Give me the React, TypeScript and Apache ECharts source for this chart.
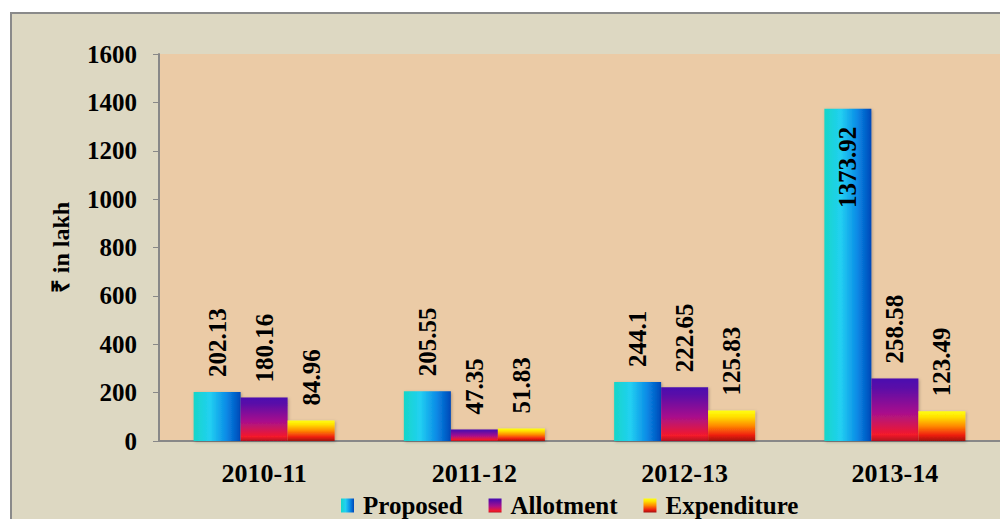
import React, { useEffect, useRef } from "react";
import * as echarts from "echarts";

const categories = ["2010-11", "2011-12", "2012-13", "2013-14"];
const proposed = [202.13, 205.55, 244.1, 1373.92];
const allotment = [180.16, 47.35, 222.65, 258.58];
const expenditure = [84.96, 51.83, 125.83, 123.49];
const seriesNames = ["Proposed", "Allotment", "Expenditure"];
const yTicks = { min: 0, max: 1600, interval: 200 };

const FONT = "'Liberation Serif', 'Times New Roman', serif";

const gradProposed = new echarts.graphic.LinearGradient(0, 0, 1, 0, [
  { offset: 0, color: "#16D6C8" },
  { offset: 0.35, color: "#22D0F2" },
  { offset: 0.7, color: "#0A8AE6" },
  { offset: 1, color: "#0048B8" },
]);
const gradAllot = new echarts.graphic.LinearGradient(0, 0, 0, 1, [
  { offset: 0, color: "#4A0CB0" },
  { offset: 0.15, color: "#5A0AA8" },
  { offset: 0.55, color: "#A8108C" },
  { offset: 0.9, color: "#F41A2A" },
  { offset: 1, color: "#B01020" },
]);
const gradExp = new echarts.graphic.LinearGradient(0, 0, 0, 1, [
  { offset: 0, color: "#FFFF10" },
  { offset: 0.2, color: "#FFE000" },
  { offset: 0.5, color: "#FF8A00" },
  { offset: 0.8, color: "#F02010" },
  { offset: 1, color: "#A01010" },
]);

export default function App() {
  const ref = useRef<HTMLDivElement>(null);
  useEffect(() => {
    document.body.style.margin = "0";
    const chart = echarts.init(ref.current!, undefined, { renderer: "svg" });
    const labelBase = {
      show: true,
      position: "top" as const,
      rotate: 90,
      align: "left",
      verticalAlign: "middle",
      distance: 15,
      fontFamily: FONT,
      fontWeight: "bold",
      fontSize: 25,
      color: "#000",
    };
    const mk = (name: string, vals: number[], color: any) => ({
      name,
      type: "bar",
      barWidth: 47,
      barGap: "0%",
      itemStyle: {
        color,
        shadowColor: "rgba(0,0,0,0.25)",
        shadowBlur: 3,
        shadowOffsetX: 1,
        shadowOffsetY: 1,
      },
      label: labelBase,
      data: vals.map((v) =>
        v > 1000
          ? {
              value: v,
              label: { position: "insideTop", align: "right", distance: 18 },
            }
          : v
      ),
    });
    chart.setOption({
      animation: false,
      backgroundColor: "#FFFFFF",
      graphic: [
        {
          type: "rect",
          z: -10,
          shape: { x: 11, y: 13, width: 1010, height: 530 },
          style: { fill: "#DDD8C2", stroke: "#8A8A8A", lineWidth: 2 },
        },
      ],
      grid: {
        left: 159,
        top: 54,
        width: 843,
        bottom: 78,
        show: true,
        backgroundColor: "#EBCBA6",
        borderWidth: 0,
      },
      legend: {
        top: 493,
        left: 341,
        padding: 0,
        itemWidth: 13,
        itemHeight: 14,
        itemGap: 26,
        icon: "rect",
        textStyle: {
          fontFamily: FONT,
          fontWeight: "bold",
          fontSize: 25,
          color: "#000",
          padding: [0, 0, 0, 4],
        },
        data: seriesNames,
      },
      xAxis: {
        type: "category",
        data: categories,
        axisLine: { lineStyle: { color: "#888", width: 2 } },
        axisTick: { show: false },
        axisLabel: {
          margin: 19,
          fontFamily: FONT,
          fontWeight: "bold",
          fontSize: 26,
          color: "#000",
        },
      },
      yAxis: {
        type: "value",
        min: yTicks.min,
        max: yTicks.max,
        interval: yTicks.interval,
        name: "₹ in lakh",
        nameLocation: "middle",
        nameGap: 86,
        nameTextStyle: {
          fontFamily: FONT,
          fontWeight: "bold",
          fontSize: 24,
          color: "#000",
        },
        axisLine: { show: true, lineStyle: { color: "#888", width: 2 } },
        axisTick: { show: true, length: 6, lineStyle: { color: "#888" } },
        splitLine: { show: false },
        axisLabel: {
          margin: 22,
          fontFamily: FONT,
          fontWeight: "bold",
          fontSize: 25,
          color: "#000",
          formatter: (v: number) => String(v),
        },
      },
      series: [
        mk(seriesNames[0], proposed, gradProposed),
        mk(seriesNames[1], allotment, gradAllot),
        mk(seriesNames[2], expenditure, gradExp),
      ],
    });
    return () => chart.dispose();
  }, []);
  return <div ref={ref} style={{ width: 1000, height: 519 }} />;
}
